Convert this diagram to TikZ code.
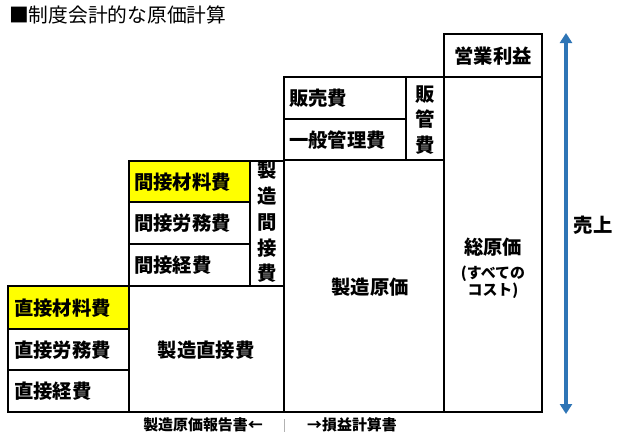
\documentclass[tikz,border=0pt]{standalone}
\usepackage{fontspec}
\newfontfamily\jp{Noto Sans CJK JP}
\usetikzlibrary{arrows.meta}
\definecolor{arrowblue}{HTML}{2E75B6}
\definecolor{hiyellow}{HTML}{FFFF00}
\tikzset{
  cell/.style={draw=black, line width=1.1pt},
  hicell/.style={cell, fill=hiyellow},
  lbl/.style={inner sep=0pt, font=\jp\bfseries\fontsize{14.5}{19.3}\selectfont},
  leftlbl/.style={lbl, anchor=west},
  small/.style={inner sep=0pt, font=\jp\bfseries\fontsize{11.2}{12.8}\selectfont, align=center},
  vert/.style={lbl, align=center},
  salesarrow/.style={draw=arrowblue, line width=3pt, {Triangle[width=9pt,length=7.5pt]}-{Triangle[width=9pt,length=7.5pt]}},
  sep/.style={draw=black!30, line width=0.6pt}
}
\begin{document}
\begin{tikzpicture}[x=0.75pt,y=-0.75pt]
\useasboundingbox (0,0) rectangle (640,437);
% title
\node[anchor=west, inner sep=0pt, font=\jp\fontsize{14.8}{16}\selectfont] (title) at (9,15) {■制度会計的な原価計算};
% direct costs
\draw[hicell] (8,286) rectangle (129,329);
\draw[cell] (8,329) rectangle (129,370);
\draw[cell] (8,370) rectangle (129,412);
\node[leftlbl] (dmat) at (14,308) {直接材料費};
\node[leftlbl] (dlab) at (14,350) {直接労務費};
\node[leftlbl] (dexp) at (14,391) {直接経費};
\draw[cell] (129,286) rectangle (284,412);
\node[lbl] (direct) at (206,350) {製造直接費};
% indirect costs
\draw[hicell] (129,161) rectangle (250,202);
\draw[cell] (129,202) rectangle (250,244);
\draw[cell] (129,244) rectangle (250,286);
\node[leftlbl] (imat) at (134,182) {間接材料費};
\node[leftlbl] (ilab) at (134,223) {間接労務費};
\node[leftlbl] (iexp) at (134,265) {間接経費};
\draw[cell] (250,161) rectangle (284,286);
\node[vert] (indirect) at (267,222) {製\\造\\間\\接\\費};
% manufacturing cost
\draw[cell] (284,160) rectangle (444,412);
\node[lbl] (mfg) at (370,287) {製造原価};
% SG&A
\draw[cell] (284,77) rectangle (406,119);
\draw[cell] (284,119) rectangle (406,160);
\node[leftlbl] (sell) at (289,98) {販売費};
\node[leftlbl] (admin) at (289,140) {一般管理費};
\draw[cell] (406,77) rectangle (444,160);
\node[vert] (sga) at (425,120) {販\\管\\費};
% profit and total cost
\draw[cell] (444,34) rectangle (542,77);
\node[lbl] (profit) at (493,56) {営業利益};
\draw[cell] (444,77) rectangle (542,412);
\node[lbl] (total) at (493,247) {総原価};
\node[small] (allcost) at (493,282) {(すべての\\コスト)};
% sales arrow
\coordinate (atop) at (566,33);
\coordinate (abot) at (566,414);
\draw[salesarrow] (atop) -- (abot);
\node[lbl] (sales) at (593,225) {売上};
% bottom labels
\node[inner sep=0pt, font=\jp\bfseries\fontsize{11.2}{12}\selectfont] (report) at (203,425) {製造原価報告書←};
\node[inner sep=0pt, font=\jp\bfseries\fontsize{11.2}{12}\selectfont] (pl) at (352,425) {→損益計算書};
\coordinate (septop) at (284,419);
\coordinate (sepbot) at (284,432);
\draw[sep] (septop) -- (sepbot);
\end{tikzpicture}
\end{document}
